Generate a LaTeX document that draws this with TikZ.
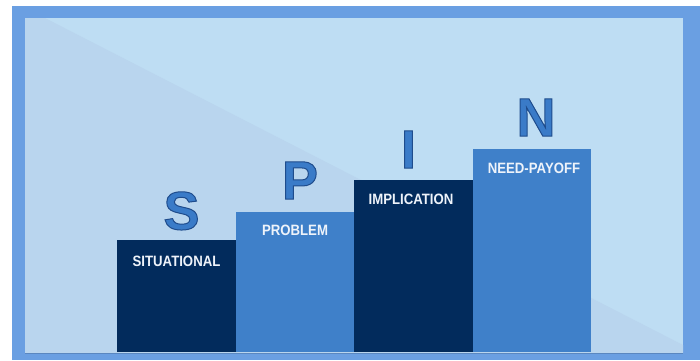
\documentclass[tikz,border=0pt]{standalone}
\usepackage{fontspec}
\setmainfont{Liberation Sans}
\usepackage{graphicx}
\definecolor{frameblue}{HTML}{6A9FE2}
\definecolor{panelblue}{HTML}{BEDDF3}
\definecolor{paneldark}{HTML}{B9D5EE}
\definecolor{navy}{HTML}{022B5C}
\definecolor{midblue}{HTML}{3F80C9}
\definecolor{letterblue}{HTML}{3A7BC8}
\definecolor{labelwhite}{HTML}{EEF3FA}
\tikzset{
  bar/.style={draw=none, inner sep=0pt, minimum width=118.5pt, anchor=south west},
  darkbar/.style={bar, fill=navy},
  lightbar/.style={bar, fill=midblue},
  lbl/.style={anchor=base, inner sep=0pt, text=labelwhite, font=\fontsize{15}{15}\selectfont\bfseries},
  bigletter/.style={anchor=base, inner sep=0pt, text=letterblue, font=\fontsize{54}{54}\selectfont\bfseries},
}
\newcommand{\narrow}[1]{\scalebox{0.88}[1]{#1}}
\newcommand{\edged}[1]{\special{pdf:literal direct 2 Tr 1 w 0.12 0.30 0.55 RG}#1\special{pdf:literal direct 0 Tr}}
\begin{document}
\begin{tikzpicture}[x=1pt,y=-1pt]
\useasboundingbox (0,0) rectangle (700,360);
\fill[white] (0,0) rectangle (700,360);
\fill[frameblue] (12,6) rectangle (700,360);
\fill[panelblue] (25,18) rectangle (683,353);
\fill[paneldark] (25,18) -- (45,18) -- (683,345) -- (683,353) -- (25,353) -- cycle;
\draw[frameblue!85!black, line width=0.8pt] (25,353) -- (683,353);
% bars
\node[darkbar, minimum height=112pt] (s) at (117,352.5) {};
\node[lightbar, minimum height=140.5pt] (p) at (235.5,352.5) {};
\node[darkbar, minimum height=172.5pt] (i) at (354,352.5) {};
\node[lightbar, minimum height=203.5pt] (n) at (472.5,352.5) {};
% labels
\node[lbl] (ls) at (176.5,266) {\narrow{SITUATIONAL}};
\node[lbl] (lp) at (295,235) {\narrow{PROBLEM}};
\node[lbl] (li) at (411,204) {\narrow{IMPLICATION}};
\node[lbl] (ln) at (534,173) {\narrow{NEED-PAYOFF}};
% big letters
\node[bigletter] (bigS) at (181.5,229.5) {\edged{S}};
\node[bigletter] (bigP) at (300,199) {\edged{P}};
\node[bigletter] (bigI) at (408.5,168) {\edged{I}};
\node[bigletter] (bigN) at (536,136) {\edged{N}};
\end{tikzpicture}
\end{document}
